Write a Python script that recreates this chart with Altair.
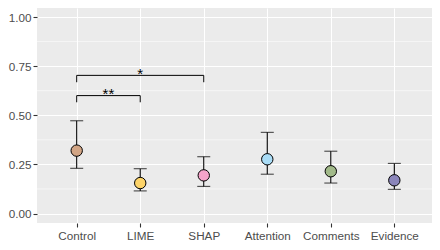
import altair as alt
import pandas as pd
import json

categories = ["Control", "LIME", "SHAP", "Attention", "Comments", "Evidence"]
means = [0.320, 0.155, 0.194, 0.276, 0.215, 0.169]
lower = [0.230, 0.115, 0.138, 0.200, 0.155, 0.123]
upper = [0.472, 0.228, 0.289, 0.413, 0.317, 0.255]
colors = ["#D2A585", "#FDD46A", "#F4A3C9", "#A9DCF6", "#A2BA8A", "#8B86BB"]

br_start = [1, 1]
br_end = [3, 2]
br_y = [0.703, 0.600]
br_tip = [0.668, 0.566]
br_label = ["*", "**"]

y_breaks = [0.00, 0.25, 0.50, 0.75, 1.00]
minor_breaks = [0.125, 0.375, 0.625, 0.875]

df = pd.DataFrame({
    "idx": list(range(1, len(categories) + 1)),
    "cat": categories,
    "mean": means,
    "lo": lower,
    "hi": upper,
})
br = pd.DataFrame({"x1": br_start, "x2": br_end, "y": br_y, "tip": br_tip, "label": br_label})
br["xm"] = (br["x1"] + br["x2"]) / 2
minor = pd.DataFrame({"y": minor_breaks})

font = "Liberation Sans"
xdom = [0.375, 6.593]
ydom = [-0.0483, 1.0458]

label_expr = json.dumps(categories) + "[datum.value - 1]"

xs = alt.Scale(domain=xdom, nice=False, zero=False)
ys = alt.Scale(domain=ydom, nice=False, zero=False)

x_axis = alt.Axis(values=list(range(1, len(categories) + 1)), labelExpr=label_expr,
                  grid=True, gridColor="white", gridWidth=1.1, domain=False,
                  tickColor="#333333", tickSize=4, tickWidth=1.1,
                  labelColor="#4D4D4D", labelFont=font, labelFontSize=11.7, labelPadding=3,
                  title=None)
y_axis = alt.Axis(values=y_breaks, format=".2f",
                  grid=True, gridColor="white", gridWidth=1.1, domain=False,
                  tickColor="#333333", tickSize=4, tickWidth=1.1,
                  labelColor="#4D4D4D", labelFont=font, labelFontSize=11.7, labelPadding=2,
                  title=None)

minor_grid = alt.Chart(minor).mark_rule(color="white", strokeWidth=0.55).encode(
    y=alt.Y("y:Q", scale=ys, axis=y_axis)
)

base = alt.Chart(df)

bars = base.mark_rule(color="black", strokeWidth=1.1).encode(
    x=alt.X("idx:Q", scale=xs, axis=x_axis),
    y=alt.Y("lo:Q", scale=ys),
    y2="hi:Q",
)
cap_lo = base.mark_tick(color="black", thickness=1.1, size=13, orient="horizontal").encode(
    x=alt.X("idx:Q", scale=xs), y=alt.Y("lo:Q", scale=ys)
)
cap_hi = base.mark_tick(color="black", thickness=1.1, size=13, orient="horizontal").encode(
    x=alt.X("idx:Q", scale=xs), y=alt.Y("hi:Q", scale=ys)
)
points = base.mark_circle(size=130, opacity=1, stroke="black", strokeWidth=1).encode(
    x=alt.X("idx:Q", scale=xs),
    y=alt.Y("mean:Q", scale=ys),
    fill=alt.Fill("cat:N", scale=alt.Scale(domain=categories, range=colors), legend=None),
)

bchart = alt.Chart(br)
b_h = bchart.mark_rule(color="black", strokeWidth=1).encode(
    x=alt.X("x1:Q", scale=xs), x2="x2:Q", y=alt.Y("y:Q", scale=ys)
)
b_l = bchart.mark_rule(color="black", strokeWidth=1).encode(
    x=alt.X("x1:Q", scale=xs), y=alt.Y("tip:Q", scale=ys), y2="y:Q"
)
b_r = bchart.mark_rule(color="black", strokeWidth=1).encode(
    x=alt.X("x2:Q", scale=xs), y=alt.Y("tip:Q", scale=ys), y2="y:Q"
)
b_t = bchart.mark_text(font=font, fontSize=15, color="black", baseline="alphabetic", dy=3.5).encode(
    x=alt.X("xm:Q", scale=xs), y=alt.Y("y:Q", scale=ys), text="label:N"
)

chart = alt.layer(minor_grid, bars, cap_lo, cap_hi, points, b_h, b_l, b_r, b_t).properties(
    width=395, height=215,
    autosize=alt.AutoSizeParams(type="none"),
    padding={"left": 29, "top": 0, "right": 0, "bottom": 19},
    background="white",
).configure_view(fill="#EBEBEB", stroke=None)

chart.save("out.html", embed_options={"renderer": "svg", "actions": False})
